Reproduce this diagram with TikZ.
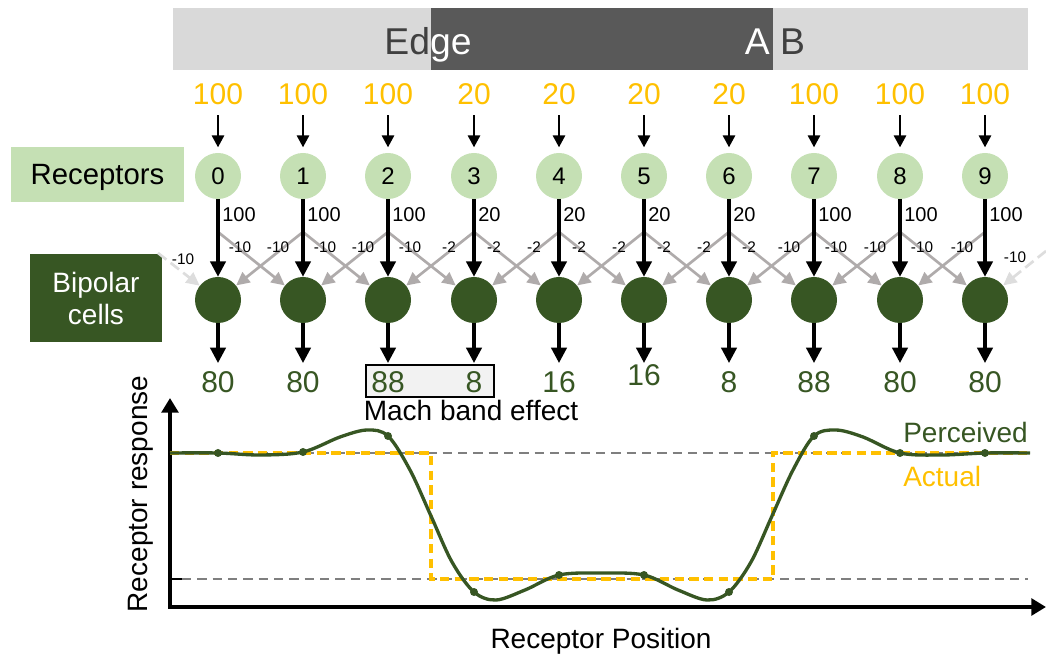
\documentclass[tikz,border=0pt]{standalone}
\usepackage{fontspec}
\setmainfont{Liberation Sans}
\usetikzlibrary{arrows.meta}

\definecolor{recgreen}{HTML}{C5E0B4}
\definecolor{bipgreen}{HTML}{375623}
\definecolor{inorange}{HTML}{FFC000}
\definecolor{latgray}{HTML}{AFABAB}
\definecolor{fadegray}{HTML}{DDDDDD}
\definecolor{barlight}{HTML}{D9D9D9}
\definecolor{bardark}{HTML}{595959}
\definecolor{bartext}{HTML}{404040}
\definecolor{refgray}{HTML}{7F7F7F}
\definecolor{boxgray}{HTML}{F2F2F2}

\begin{document}
\begin{tikzpicture}[x=0.75pt, y=-0.75pt,
    bartxt/.style={anchor=base, font=\fontsize{28}{32}\selectfont},
    inval/.style={anchor=base, text=inorange, font=\fontsize{22.5}{27}\selectfont},
    receptor/.style={circle, fill=recgreen, minimum size=34.5pt, inner sep=0pt, font=\fontsize{18}{22}\selectfont},
    bipolar/.style={circle, fill=bipgreen, minimum size=34.5pt, inner sep=0pt},
    outval/.style={anchor=base, text=bipgreen, font=\fontsize{22.5}{27}\selectfont},
    wlabel/.style={anchor=base west, inner sep=0pt, font=\fontsize{15}{17}\selectfont},
    latlabel/.style={inner sep=0pt, font=\fontsize{11.5}{13}\selectfont},
    inarrow/.style={line width=2pt, -{Triangle[length=9pt, width=9pt]}, shorten <=4pt, shorten >=4pt},
    feed/.style={line width=2.4pt, -{Triangle[length=11.5pt, width=11.5pt]}},
    lateral/.style={latgray, line width=2pt, -{Triangle[length=10pt, width=9.5pt]}},
    faint/.style={fadegray, line width=2pt, dash pattern=on 8pt off 4pt, -{Triangle[length=10pt, width=9.5pt]}},
    axislabel/.style={font=\fontsize{21}{25}\selectfont, text depth=0pt}
  ]
  \useasboundingbox (0,0) rectangle (1046,655);

  % Stimulus bar (light - dark - light)
  \fill[barlight] (173,8) rectangle (1028,70);
  \fill[bardark] (431,8) rectangle (773,70);
  \node[bartxt, text=bartext] (edge) at (428,55) {Edge};
  \node[bartxt, text=bartext] (ab) at (775,55) {A B};
  \begin{scope}
    \clip (431,8) rectangle (773,70);
    \node[bartxt, text=white] (edgelit) at (428,55) {Edge};
    \node[bartxt, text=white] (ablit) at (775,55) {A B};
  \end{scope}

  % Input intensities
  \node[inval] (in0) at (218,105) {100}; \node[inval] (in1) at (303,105) {100};
  \node[inval] (in2) at (388,105) {100}; \node[inval] (in3) at (474,105) {20};
  \node[inval] (in4) at (559,105) {20};  \node[inval] (in5) at (644,105) {20};
  \node[inval] (in6) at (729,105) {20};  \node[inval] (in7) at (814,105) {100};
  \node[inval] (in8) at (900,105) {100}; \node[inval] (in9) at (985,105) {100};

  % Receptors
  \node[receptor] (r0) at (218,176) {0}; \node[receptor] (r1) at (303,176) {1};
  \node[receptor] (r2) at (388,176) {2}; \node[receptor] (r3) at (474,176) {3};
  \node[receptor] (r4) at (559,176) {4}; \node[receptor] (r5) at (644,176) {5};
  \node[receptor] (r6) at (729,176) {6}; \node[receptor] (r7) at (814,176) {7};
  \node[receptor] (r8) at (900,176) {8}; \node[receptor] (r9) at (985,176) {9};

  % Bipolar cells
  \node[bipolar] (b0) at (218,300) {}; \node[bipolar] (b1) at (303,300) {};
  \node[bipolar] (b2) at (388,300) {}; \node[bipolar] (b3) at (474,300) {};
  \node[bipolar] (b4) at (559,300) {}; \node[bipolar] (b5) at (644,300) {};
  \node[bipolar] (b6) at (729,300) {}; \node[bipolar] (b7) at (814,300) {};
  \node[bipolar] (b8) at (900,300) {}; \node[bipolar] (b9) at (985,300) {};

  % Layer labels
  \node[fill=recgreen, minimum width=129.75pt, minimum height=41.25pt, text depth=0pt,
        font=\fontsize{22}{26}\selectfont] (reclabel) at (97.5,174.5) {Receptors};
  \node[fill=bipgreen, text=white, minimum width=99pt, minimum height=66pt, align=center,
        font=\fontsize{21}{24}\selectfont] (biplabel) at (96,298) {Bipolar\\cells};

  % Inputs to receptors
  \draw[inarrow] (in0) -- (r0); \draw[inarrow] (in1) -- (r1); \draw[inarrow] (in2) -- (r2);
  \draw[inarrow] (in3) -- (r3); \draw[inarrow] (in4) -- (r4); \draw[inarrow] (in5) -- (r5);
  \draw[inarrow] (in6) -- (r6); \draw[inarrow] (in7) -- (r7); \draw[inarrow] (in8) -- (r8);
  \draw[inarrow] (in9) -- (r9);

  % Lateral inhibition
  \coordinate (br0) at (218,232); \coordinate (br1) at (303,232);
  \coordinate (br2) at (388,232); \coordinate (br3) at (474,232);
  \coordinate (br4) at (559,232); \coordinate (br5) at (644,232);
  \coordinate (br6) at (729,232); \coordinate (br7) at (814,232);
  \coordinate (br8) at (900,232); \coordinate (br9) at (985,232);
  \coordinate (lft) at (158,253); \coordinate (rgt) at (1046,251);
  \draw[faint] (lft) -- (b0); \draw[faint] (rgt) -- (b9);
  \draw[lateral] (br0) -- (b1);
  \draw[lateral] (br1) -- (b0); \draw[lateral] (br1) -- (b2);
  \draw[lateral] (br2) -- (b1); \draw[lateral] (br2) -- (b3);
  \draw[lateral] (br3) -- (b2); \draw[lateral] (br3) -- (b4);
  \draw[lateral] (br4) -- (b3); \draw[lateral] (br4) -- (b5);
  \draw[lateral] (br5) -- (b4); \draw[lateral] (br5) -- (b6);
  \draw[lateral] (br6) -- (b5); \draw[lateral] (br6) -- (b7);
  \draw[lateral] (br7) -- (b6); \draw[lateral] (br7) -- (b8);
  \draw[lateral] (br8) -- (b7); \draw[lateral] (br8) -- (b9);
  \draw[lateral] (br9) -- (b8);

  % Inhibition weights
  \node[latlabel] (wl) at (183,259) {-10};  \node[latlabel] (wr) at (1015,257) {-10};
  \node[latlabel] (w0r) at (240,247) {-10};
  \node[latlabel] (w1l) at (278,247) {-10}; \node[latlabel] (w1r) at (325,247) {-10};
  \node[latlabel] (w2l) at (363,247) {-10}; \node[latlabel] (w2r) at (410,247) {-10};
  \node[latlabel] (w3l) at (449,247) {-2};  \node[latlabel] (w3r) at (494,247) {-2};
  \node[latlabel] (w4l) at (534,247) {-2};  \node[latlabel] (w4r) at (579,247) {-2};
  \node[latlabel] (w5l) at (619,247) {-2};  \node[latlabel] (w5r) at (664,247) {-2};
  \node[latlabel] (w6l) at (704,247) {-2};  \node[latlabel] (w6r) at (749,247) {-2};
  \node[latlabel] (w7l) at (789,247) {-10}; \node[latlabel] (w7r) at (836,247) {-10};
  \node[latlabel] (w8l) at (875,247) {-10}; \node[latlabel] (w8r) at (922,247) {-10};
  \node[latlabel] (w9l) at (962,247) {-10};

  % Direct pathway
  \draw[feed] (r0) -- (b0); \draw[feed] (r1) -- (b1); \draw[feed] (r2) -- (b2);
  \draw[feed] (r3) -- (b3); \draw[feed] (r4) -- (b4); \draw[feed] (r5) -- (b5);
  \draw[feed] (r6) -- (b6); \draw[feed] (r7) -- (b7); \draw[feed] (r8) -- (b8);
  \draw[feed] (r9) -- (b9);
  \node[wlabel] (d0) at (222,222) {100}; \node[wlabel] (d1) at (307,222) {100};
  \node[wlabel] (d2) at (392,222) {100}; \node[wlabel] (d3) at (478,222) {20};
  \node[wlabel] (d4) at (563,222) {20};  \node[wlabel] (d5) at (648,222) {20};
  \node[wlabel] (d6) at (733,222) {20};  \node[wlabel] (d7) at (818,222) {100};
  \node[wlabel] (d8) at (904,222) {100}; \node[wlabel] (d9) at (989,222) {100};

  % Outputs
  \coordinate (o0) at (218,363); \coordinate (o1) at (303,363);
  \coordinate (o2) at (388,363); \coordinate (o3) at (474,363);
  \coordinate (o4) at (559,363); \coordinate (o5) at (644,363);
  \coordinate (o6) at (729,363); \coordinate (o7) at (814,363);
  \coordinate (o8) at (900,363); \coordinate (o9) at (985,363);
  \draw[feed] (b0) -- (o0); \draw[feed] (b1) -- (o1); \draw[feed] (b2) -- (o2);
  \draw[feed] (b3) -- (o3); \draw[feed] (b4) -- (o4); \draw[feed] (b5) -- (o5);
  \draw[feed] (b6) -- (o6); \draw[feed] (b7) -- (o7); \draw[feed] (b8) -- (o8);
  \draw[feed] (b9) -- (o9);
  \draw[line width=1.8pt, fill=boxgray] (366,365) rectangle (494,397);
  \node[outval] (out0) at (218,393) {80}; \node[outval] (out1) at (303,393) {80};
  \node[outval] (out2) at (388,393) {88}; \node[outval] (out3) at (474,393) {8};
  \node[outval] (out4) at (559,393) {16}; \node[outval] (out5) at (644,386) {16};
  \node[outval] (out6) at (729,393) {8};  \node[outval] (out7) at (814,393) {88};
  \node[outval] (out8) at (900,393) {80}; \node[outval] (out9) at (985,393) {80};
  \node[anchor=base, font=\fontsize{21}{25}\selectfont] (mach) at (471,421) {Mach band effect};

  % Response plot: axes and levels
  \coordinate (origin) at (170,607);
  \coordinate (ytip) at (170,398);
  \coordinate (xtip) at (1046,607);
  \draw[line width=3pt, line join=miter, {Triangle[length=11pt, width=12.5pt]}-{Triangle[length=11pt, width=12.5pt]}]
    (ytip) -- (origin) -- (xtip);
  \draw[line width=2pt] (170,453) -- (182,453);
  \draw[line width=2pt] (170,579) -- (182,579);
  \draw[refgray, line width=2pt, dash pattern=on 7pt off 4.5pt] (182,453) -- (1028,453);
  \draw[refgray, line width=2pt, dash pattern=on 7pt off 4.5pt] (182,579) -- (1028,579);

  % Actual step
  \draw[inorange, line width=2.5pt, dash pattern=on 7pt off 4pt]
    (170,453) -- (431,453) -- (431,579) -- (773,579) -- (773,453) -- (1028,453);

  % Perceived response
  \draw[bipgreen, line width=2.5pt] plot[smooth, tension=0.55] coordinates {
    (170,453) (218,453) (260,455) (303,452) (340,437) (367,430) (388,436) (410,470)
    (431,516) (452,562) (474,592) (496,600) (525,590) (559,575) (601,573) (644,575)
    (678,590) (707,600) (729,592) (751,562) (772,516) (793,470) (814,436) (836,430)
    (863,437) (900,453) (942,455) (985,453) (1030,453)};
  \fill[bipgreen] (218,453) circle (3pt); \fill[bipgreen] (303,452) circle (3pt);
  \fill[bipgreen] (388,436) circle (3pt); \fill[bipgreen] (474,592) circle (3pt);
  \fill[bipgreen] (559,575) circle (3pt); \fill[bipgreen] (644,575) circle (3pt);
  \fill[bipgreen] (729,592) circle (3pt); \fill[bipgreen] (814,436) circle (3pt);
  \fill[bipgreen] (900,453) circle (3pt); \fill[bipgreen] (985,453) circle (3pt);

  % Legend and axis labels
  \node[anchor=base west, inner sep=0pt, text=bipgreen, font=\fontsize{21}{25}\selectfont] (perc) at (903,443) {Perceived};
  \node[anchor=base west, inner sep=0pt, text=inorange, font=\fontsize{21}{25}\selectfont] (act) at (903,487) {Actual};
  \node[axislabel, anchor=base] (xlab) at (601,648) {Receptor Position};
  \node[axislabel, anchor=base, rotate=90] (ylab) at (147,494) {Receptor response};
\end{tikzpicture}
\end{document}
